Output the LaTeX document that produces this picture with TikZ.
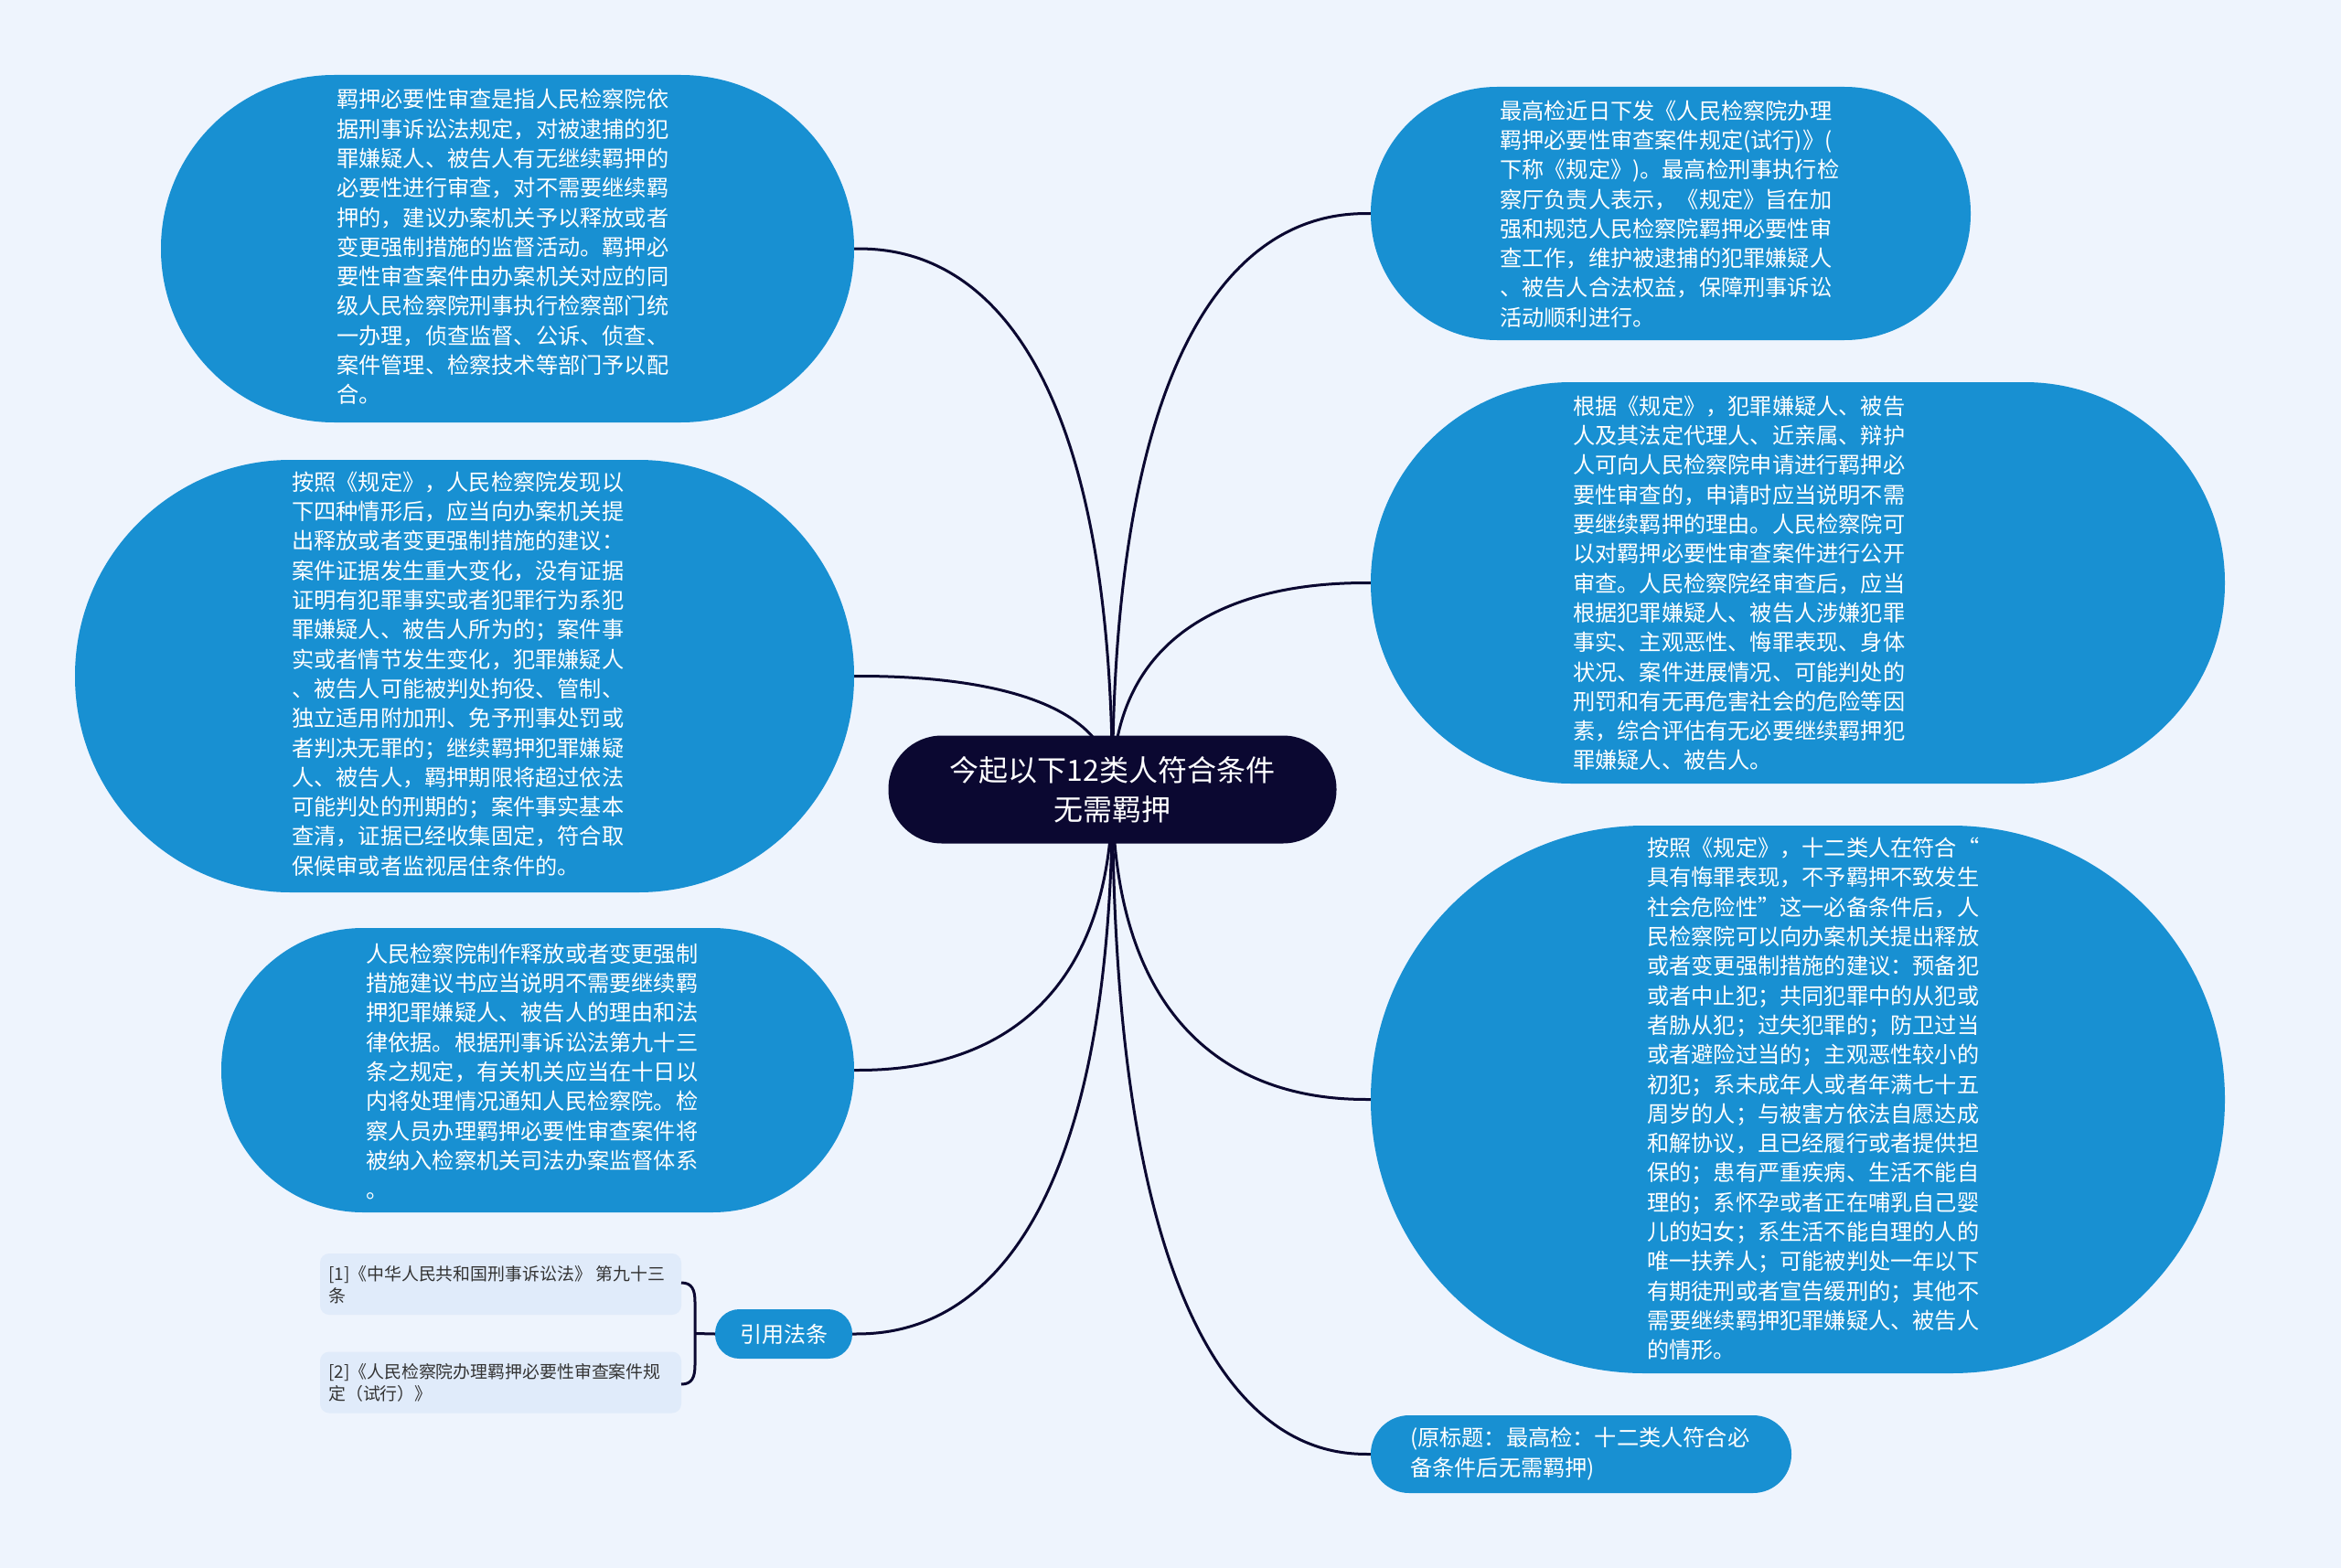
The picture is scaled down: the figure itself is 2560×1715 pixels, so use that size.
\documentclass[tikz,border=0pt]{standalone}
\usepackage{fontspec}
\setmainfont{Noto Sans CJK SC}
\usetikzlibrary{calc}
\definecolor{bgc}{HTML}{EEF4FD}
\definecolor{nodeblue}{HTML}{1890D2}
\definecolor{rootc}{HTML}{0B0831}
\definecolor{citec}{HTML}{E0EBFA}
\definecolor{linec}{HTML}{0B0831}
\definecolor{citetext}{HTML}{333333}
\pgfdeclarelayer{bg}
\pgfsetlayers{bg,main}
\begin{document}
\begin{tikzpicture}[x=1pt,y=-1pt,
  blob/.style={fill=nodeblue, draw=none, inner sep=0pt, outer sep=0pt},
  txt/.style={text=white, align=left, inner sep=0pt, anchor=west, font=\fontsize{24.2}{32.3}\selectfont},
  citebox/.style={fill=citec, draw=none, inner sep=0pt, outer sep=0pt, minimum width=395pt, minimum height=67pt, rounded corners=10pt},
  citetxt/.style={text=citetext, align=left, inner sep=0pt, anchor=west, font=\fontsize{18.9}{24}\selectfont},
  link/.style={draw=linec, line width=3pt},
]
\useasboundingbox (0,0) rectangle (2560,1715);

% main topic
\node[fill=rootc, inner sep=0pt, outer sep=0pt, minimum width=490pt, minimum height=118pt, rounded corners=58.5pt,
      text=white, align=center, font=\fontsize{32}{42.5}\selectfont] (root) at (1216.5,863.5) {今起以下12类人符合条件\\无需羁押};

% left nodes
\node[blob, minimum width=758pt, minimum height=380pt, rounded corners=189.5pt] (L1) at (555,272) {};
\node[txt] (L1t) at (368,270) {羁押必要性审查是指人民检察院依\\据刑事诉讼法规定，对被逮捕的犯\\罪嫌疑人、被告人有无继续羁押的\\必要性进行审查，对不需要继续羁\\押的，建议办案机关予以释放或者\\变更强制措施的监督活动。羁押必\\要性审查案件由办案机关对应的同\\级人民检察院刑事执行检察部门统\\一办理，侦查监督、公诉、侦查、\\案件管理、检察技术等部门予以配\\合。};

\node[blob, minimum width=852pt, minimum height=473pt, rounded corners=236pt] (L2) at (508,739.5) {};
\node[txt] (L2t) at (319,737) {按照《规定》，人民检察院发现以\\下四种情形后，应当向办案机关提\\出释放或者变更强制措施的建议：\\案件证据发生重大变化，没有证据\\证明有犯罪事实或者犯罪行为系犯\\罪嫌疑人、被告人所为的；案件事\\实或者情节发生变化，犯罪嫌疑人\\、被告人可能被判处拘役、管制、\\独立适用附加刑、免予刑事处罚或\\者判决无罪的；继续羁押犯罪嫌疑\\人、被告人，羁押期限将超过依法\\可能判处的刑期的；案件事实基本\\查清，证据已经收集固定，符合取\\保候审或者监视居住条件的。};

\node[blob, minimum width=692pt, minimum height=311pt, rounded corners=155pt] (L3) at (588,1170.5) {};
\node[txt] (L3t) at (400,1172) {人民检察院制作释放或者变更强制\\措施建议书应当说明不需要继续羁\\押犯罪嫌疑人、被告人的理由和法\\律依据。根据刑事诉讼法第九十三\\条之规定，有关机关应当在十日以\\内将处理情况通知人民检察院。检\\察人员办理羁押必要性审查案件将\\被纳入检察机关司法办案监督体系\\。};

% citations
\node[blob, minimum width=150pt, minimum height=54pt, rounded corners=26.5pt, text=white, font=\fontsize{24}{30}\selectfont] (cite) at (857,1459) {引用法条};
\node[citebox] (c1) at (547.5,1404.5) {};
\node[citetxt] (c1t) at (359,1405) {[1]《中华人民共和国刑事诉讼法》 第九十三\\条};
\node[citebox] (c2) at (547.5,1512) {};
\node[citetxt] (c2t) at (359,1512) {[2]《人民检察院办理羁押必要性审查案件规\\定（试行）》};
\coordinate (bm) at (760,1458.5);
\draw[link] (745,1403) .. controls (757,1403) and (760,1411) .. (760,1424) -- (760,1493) .. controls (760,1506) and (757,1514) .. (745,1514);
\draw[link] (bm) -- (cite.west);

% right nodes
\node[blob, minimum width=656pt, minimum height=277pt, rounded corners=138pt] (R1) at (1827,233.5) {};
\node[txt] (R1t) at (1640,234) {最高检近日下发《人民检察院办理\\羁押必要性审查案件规定(试行)》(\\下称《规定》)。最高检刑事执行检\\察厅负责人表示，《规定》旨在加\\强和规范人民检察院羁押必要性审\\查工作，维护被逮捕的犯罪嫌疑人\\、被告人合法权益，保障刑事诉讼\\活动顺利进行。};

\node[blob, minimum width=934pt, minimum height=439pt, rounded corners=219pt] (R2) at (1966,637.5) {};
\node[txt] (R2t) at (1720,638) {根据《规定》，犯罪嫌疑人、被告\\人及其法定代理人、近亲属、辩护\\人可向人民检察院申请进行羁押必\\要性审查的，申请时应当说明不需\\要继续羁押的理由。人民检察院可\\以对羁押必要性审查案件进行公开\\审查。人民检察院经审查后，应当\\根据犯罪嫌疑人、被告人涉嫌犯罪\\事实、主观恶性、悔罪表现、身体\\状况、案件进展情况、可能判处的\\刑罚和有无再危害社会的危险等因\\素，综合评估有无必要继续羁押犯\\罪嫌疑人、被告人。};

\node[blob, minimum width=934pt, minimum height=599pt, rounded corners=299pt] (R3) at (1966,1202.5) {};
\node[txt] (R3t) at (1801,1202) {按照《规定》，十二类人在符合“\\具有悔罪表现，不予羁押不致发生\\社会危险性”这一必备条件后，人\\民检察院可以向办案机关提出释放\\或者变更强制措施的建议：预备犯\\或者中止犯；共同犯罪中的从犯或\\者胁从犯；过失犯罪的；防卫过当\\或者避险过当的；主观恶性较小的\\初犯；系未成年人或者年满七十五\\周岁的人；与被害方依法自愿达成\\和解协议，且已经履行或者提供担\\保的；患有严重疾病、生活不能自\\理的；系怀孕或者正在哺乳自己婴\\儿的妇女；系生活不能自理的人的\\唯一扶养人；可能被判处一年以下\\有期徒刑或者宣告缓刑的；其他不\\需要继续羁押犯罪嫌疑人、被告人\\的情形。};

\node[blob, minimum width=460pt, minimum height=85pt, rounded corners=42pt] (R4) at (1729,1590.5) {};
\node[txt] (R4t) at (1542,1590) {(原标题：最高检：十二类人符合必\\备条件后无需羁押)};

% background and connectors
\begin{pgfonlayer}{bg}
\fill[bgc] (0,0) rectangle (2560,1715);
\draw[link] (root.center) .. controls (root.center |- L1.east) and ($(L1.east)!0.19!(root.center |- L1.east)$) .. (L1.east);
\draw[link] (root.center) .. controls (root.center |- L2.east) and ($(L2.east)!0.19!(root.center |- L2.east)$) .. (L2.east);
\draw[link] (root.center) .. controls (root.center |- L3.east) and ($(L3.east)!0.19!(root.center |- L3.east)$) .. (L3.east);
\draw[link] (root.center) .. controls (root.center |- cite.east) and ($(cite.east)!0.19!(root.center |- cite.east)$) .. (cite.east);
\draw[link] (root.center) .. controls (root.center |- R1.west) and ($(R1.west)!0.19!(root.center |- R1.west)$) .. (R1.west);
\draw[link] (root.center) .. controls (root.center |- R2.west) and ($(R2.west)!0.19!(root.center |- R2.west)$) .. (R2.west);
\draw[link] (root.center) .. controls (root.center |- R3.west) and ($(R3.west)!0.19!(root.center |- R3.west)$) .. (R3.west);
\draw[link] (root.center) .. controls (root.center |- R4.west) and ($(R4.west)!0.19!(root.center |- R4.west)$) .. (R4.west);
\end{pgfonlayer}
\end{tikzpicture}
\end{document}
